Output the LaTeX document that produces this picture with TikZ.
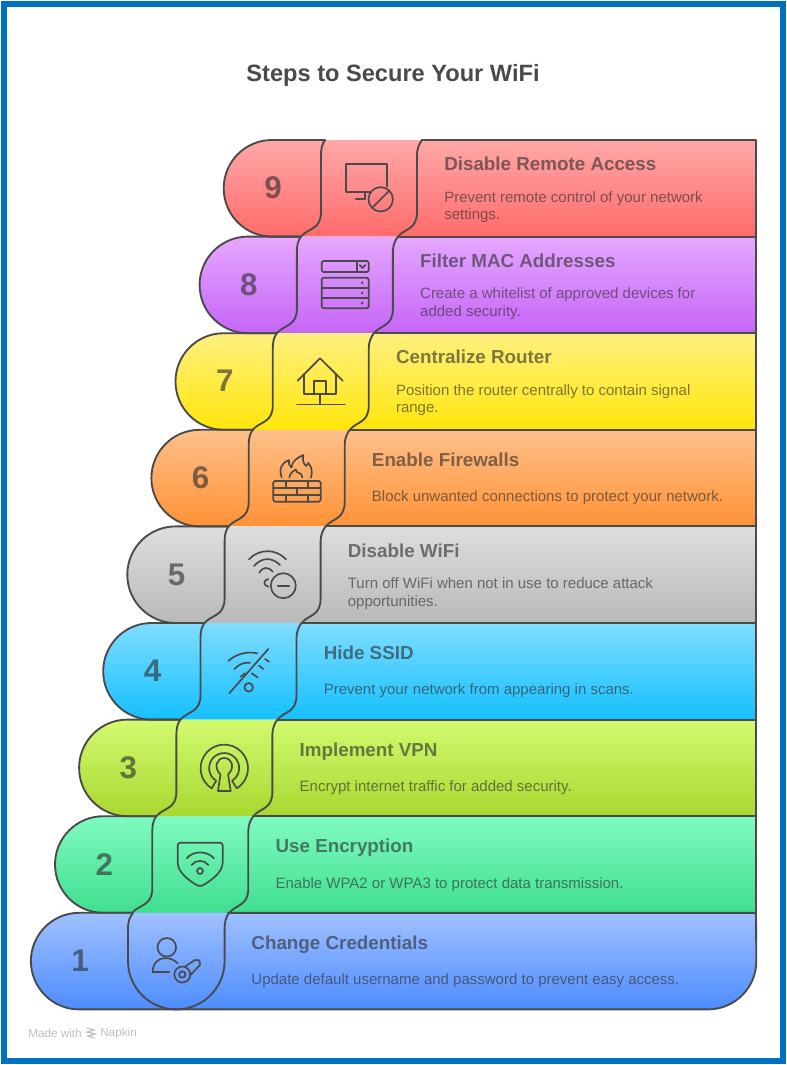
\documentclass[tikz,border=0pt]{standalone}
\usepackage{fontspec}
\setmainfont{Liberation Sans}
\definecolor{frameblue}{HTML}{0070C0}
\definecolor{ink}{HTML}{4A4A4A}
\definecolor{tx}{HTML}{2E2E2E}
\definecolor{ca9}{HTML}{FFA8A8}\definecolor{cb9}{HTML}{FF6B6B}
\definecolor{ca8}{HTML}{E5A8FF}\definecolor{cb8}{HTML}{C665F7}
\definecolor{ca7}{HTML}{FFF080}\definecolor{cb7}{HTML}{FFE60A}
\definecolor{ca6}{HTML}{FFC08A}\definecolor{cb6}{HTML}{FF9236}
\definecolor{ca5}{HTML}{DEDEDE}\definecolor{cb5}{HTML}{B9B9B9}
\definecolor{ca4}{HTML}{80DDFF}\definecolor{cb4}{HTML}{14C0FF}
\definecolor{ca3}{HTML}{D2FB70}\definecolor{cb3}{HTML}{A8D830}
\definecolor{ca2}{HTML}{80FBC0}\definecolor{cb2}{HTML}{40DE90}
\definecolor{ca1}{HTML}{A0C0FF}\definecolor{cb1}{HTML}{4D8DFF}
\tikzset{
  outline/.style={draw=ink,line width=1.4pt,line join=round,line cap=round},
  icon/.style={draw=ink,line width=1.25pt,line join=round,line cap=round},
  numlabel/.style={text=tx,text opacity=.62,font=\bfseries\fontsize{23.5}{27}\selectfont,inner sep=0pt,anchor=center},
  headlabel/.style={text=tx,text opacity=.62,font=\bfseries\fontsize{14.1}{16}\selectfont,inner sep=0pt,anchor=west,text height=10pt,text depth=0pt},
  bodylabel/.style={text=tx,text opacity=.62,font=\fontsize{11.25}{13.3}\selectfont,inner sep=0pt,anchor=west,align=left},
  footlabel/.style={text=black!25,font=\fontsize{8.8}{10}\selectfont,inner sep=0pt,anchor=west},
}
% row fill + outline, rows 2..9 (index k = 9 - row number)
\newcommand{\rowfill}[1]{%
  \pgfmathsetmacro{\rk}{9-#1}%
  \pgfmathsetmacro{\Lx}{224-24.1*\rk}%
  \pgfmathsetmacro{\Ty}{140+96.6*\rk}%
  \pgfmathsetmacro{\By}{\Ty+96.6}%
  \path[top color=ca#1,bottom color=cb#1]
    (\Lx+48,\Ty) arc (270:90:48.3) -- (756,\By) -- (756,\Ty) -- cycle;
}
\newcommand{\rowlines}[1]{%
  \pgfmathsetmacro{\rk}{9-#1}%
  \pgfmathsetmacro{\Lx}{224-24.1*\rk}%
  \pgfmathsetmacro{\Ty}{140+96.6*\rk}%
  \pgfmathsetmacro{\By}{\Ty+96.6}%
  \draw[outline] (\Lx+101,\Ty) -- (\Lx+48,\Ty) arc (270:90:48.3) -- (\Lx+77,\By);
  \draw[outline] (\Lx+174,\By) -- (756,\By) -- (756,\Ty) -- (\Lx+198,\Ty);
  \draw[outline] (\Lx+101,\Ty) .. controls (\Lx+98,\Ty+4) and (\Lx+97,\Ty+9) .. (\Lx+97,\Ty+15)
    -- (\Lx+97,\Ty+72) .. controls (\Lx+97,\Ty+90) and (\Lx+84,\Ty+88) .. (\Lx+77,\By);
  \draw[outline] (\Lx+198,\Ty) .. controls (\Lx+195,\Ty+4) and (\Lx+193,\Ty+9) .. (\Lx+193,\Ty+15)
    -- (\Lx+193,\Ty+72) .. controls (\Lx+193,\Ty+90) and (\Lx+181,\Ty+88) .. (\Lx+174,\By);
}
% row texts: #1 number, #2 heading offset, #3 heading, #4 body
\newcommand{\rowtext}[4]{%
  \pgfmathsetmacro{\rk}{9-#1}%
  \pgfmathsetmacro{\Lx}{224-24.1*\rk}%
  \pgfmathsetmacro{\Ty}{140+96.6*\rk}%
  \pgfmathsetmacro{\bo}{#2==30?68:67}%
  \node[numlabel] (num#1) at (\Lx+49,\Ty+48) {#1};
  \node[headlabel] (head#1) at (\Lx+220,\Ty+#2) {#3};
  \node[bodylabel] (body#1) at (\Lx+220,\Ty+\bo) {#4};
}
\begin{document}
\begin{tikzpicture}[x=0.75pt,y=-0.75pt]
\useasboundingbox (0,0) rectangle (787,1065);
\fill[white] (0,0) rectangle (787,1065);
\draw[frameblue,line width=4.2pt] (3.8,3.8) rectangle (783,1061);
\node[text=ink,font=\bfseries\fontsize{17.7}{22}\selectfont,inner sep=0pt] (title) at (393,75.5) {Steps to Secure Your WiFi};
% fills
\foreach \r in {9,8,7,6,5,4,3,2}{\rowfill{\r}}
\path[top color=ca1,bottom color=cb1]
  (79.2,912.8) arc (270:90:48.3) -- (708,1009.4) arc (90:0:48.3) -- (756,912.8) -- cycle;
% outlines
\foreach \r in {9,8,7,6,5,4,3,2}{\rowlines{\r}}
\draw[outline] (132,912.8) -- (79.2,912.8) arc (270:90:48.3) -- (708,1009.4) arc (90:0:48.3) -- (756,912.8) -- (228,912.8);
\draw[outline] (133,912.8) .. controls (129.5,917) and (128,922) .. (128,928) -- (128,961.1) arc (180:90:48.3) arc (90:0:48.3) -- (224.6,928) .. controls (224.6,922) and (226,917) .. (229,912.8);
% texts
\rowtext{9}{24}{Disable Remote Access}{Prevent remote control of your network\\settings.}
\rowtext{8}{24}{Filter MAC Addresses}{Create a whitelist of approved devices for\\added security.}
\rowtext{7}{24}{Centralize Router}{Position the router centrally to contain signal\\range.}
\rowtext{6}{30}{Enable Firewalls}{Block unwanted connections to protect your network.}
\rowtext{5}{24}{Disable WiFi}{Turn off WiFi when not in use to reduce attack\\opportunities.}
\rowtext{4}{30}{Hide SSID}{Prevent your network from appearing in scans.}
\rowtext{3}{30}{Implement VPN}{Encrypt internet traffic for added security.}
\rowtext{2}{30}{Use Encryption}{Enable WPA2 or WPA3 to protect data transmission.}
\rowtext{1}{30}{Change Credentials}{Update default username and password to prevent easy access.}
% icon 9: monitor
\draw[icon] (386.7,186.5) -- (386.7,164.3) -- (345.7,164.3) -- (345.7,192.3) -- (370,192.3);
\draw[icon] (355.7,199.3) -- (365,199.3) -- (365,192.3);
\draw[icon] (380.7,199.3) circle[radius=12.2];
\draw[icon] (372.2,207.8) -- (389.2,190.8);
% icon 8: list
\draw[icon,rounded corners=1.2pt] (321.7,261) rectangle (368.7,272);
\draw[icon] (356.7,261) -- (356.7,272);
\draw[icon] (359.7,265) -- (362.5,268) -- (365.3,265);
\draw[icon,rounded corners=1.2pt] (321.7,277.7) rectangle (368.7,308.3);
\draw[icon] (321.7,287.8) -- (368.7,287.8) (321.7,298) -- (368.7,298);
\foreach \yy in {282.7,293,303}{\fill[ink] (362.3,\yy) circle[radius=1.4];}
% icon 7: house
\draw[icon] (297.7,380.7) -- (320,358.3) -- (342.7,380.7);
\draw[icon] (304,374) -- (304,394.3) -- (336,394.3) -- (336,374);
\draw[icon] (314,394.3) -- (314,380.7) -- (325.7,380.7) -- (325.7,394.3);
\draw[icon] (320,394.3) -- (320,404.5);
\draw[icon] (297,404.5) -- (345,404.5);
% icon 6: firewall
\draw[icon,rounded corners=1.2pt] (273.3,481) rectangle (320.7,501.7);
\draw[icon] (273.3,487.8) -- (320.7,487.8) (273.3,494.7) -- (320.7,494.7);
\draw[icon] (285.7,481) -- (285.7,487.8) (308.3,481) -- (308.3,487.8)
  (296.7,487.8) -- (296.7,494.7) (285.7,494.7) -- (285.7,501.7) (308.3,494.7) -- (308.3,501.7);
\draw[icon] (281.7,477.5) .. controls (278,468) and (283,462) .. (289,460)
  .. controls (288.5,464) and (289.5,466) .. (291.5,467.5)
  .. controls (292,461) and (297,458) .. (303.3,455)
  .. controls (302,461) and (304,464) .. (306,466)
  .. controls (307,465) and (308,464) .. (308.2,463)
  .. controls (312,467) and (312.5,472) .. (311,477.5);
\draw[icon] (289.3,477.5) .. controls (290,473) and (293,471) .. (295.7,469.5)
  .. controls (296,472) and (298,473) .. (299,473)
  .. controls (301,473) and (302,475) .. (302.3,477.5);
% icon 5: wifi minus
\draw[icon] (283.3,585.7) circle[radius=12.5];
\draw[icon] (277.7,585.7) -- (289.3,585.7);
\draw[icon] (249,559.3) .. controls (259,548.5) and (276,548.5) .. (286,559.3);
\draw[icon] (254,566) .. controls (262,557) and (272,557) .. (280,565);
\draw[icon] (259.3,572.7) .. controls (263,566.5) and (268,566.5) .. (272.7,571.7);
\draw[icon] (268.3,579) .. controls (263,580) and (263,585.5) .. (268.3,586.7);
% icon 4: wifi off
\draw[icon] (229.3,693.3) -- (268.3,649);
\draw[icon] (248.7,687.3) circle[radius=4.3];
\draw[icon] (228.3,661) .. controls (236,654) and (247,651) .. (257.3,653.3);
\draw[icon] (265,659) -- (269,661.7);
\draw[icon] (234.3,669) .. controls (239,664) and (245,662) .. (250,662.7);
\draw[icon] (259,665.7) -- (263.3,669);
\draw[icon] (240.7,676.7) -- (245,673.3);
\draw[icon] (251.7,673.3) -- (257.7,677.3);
% icon 3: keyhole signal
\draw[icon] (224.3,768.3) ++(122:23.7) arc (122:418:23.7) -- ++(238:9) arc (418:122:15) -- cycle;
\draw[icon] (218,791) -- (220.5,774.5) .. controls (213,767) and (217,758) .. (224.3,758)
  .. controls (231.6,758) and (235.6,767) .. (228.1,774.5) -- (230.7,791) -- cycle;
% icon 2: shield
\draw[icon,rounded corners=2pt] (177.7,842.7) -- (222.7,842.7) -- (222.7,860) .. controls (222.7,873) and (209,882) .. (200,886.7)
  .. controls (191,882) and (177.7,873) .. (177.7,860) -- cycle;
\draw[icon] (186.7,858.3) .. controls (193,850.5) and (207,850.5) .. (214,858.3);
\draw[icon] (191.7,865) .. controls (195,859.5) and (205,859.5) .. (208.3,865);
\draw[icon] (200,871) circle[radius=3];
% icon 1: user key
\draw[icon] (166.8,947.3) circle[radius=9.3];
\draw[icon] (177.7,963.3) .. controls (174,959.5) and (170,958.2) .. (165,958.2)
  .. controls (157,958.4) and (152.7,964) .. (152.7,972) -- (169.3,972);
\draw[icon] (182.3,974.5) circle[radius=8];
\draw[icon] (182.3,974.5) circle[radius=3.2];
\draw[icon] (184.5,966.8) -- (195,960) -- (199.5,960.3) -- (200,965) -- (190,975.5);
% footer
\node[footlabel] (made) at (28,1033.5) {Made with};
\node[footlabel] (napkin) at (100,1033.5) {Napkin};
\draw[black!25,line width=.9pt,line cap=round] (87,1028) -- (94,1030) -- (87,1032) -- (95,1034) -- (88,1036) -- (94,1038);
\end{tikzpicture}
\end{document}
